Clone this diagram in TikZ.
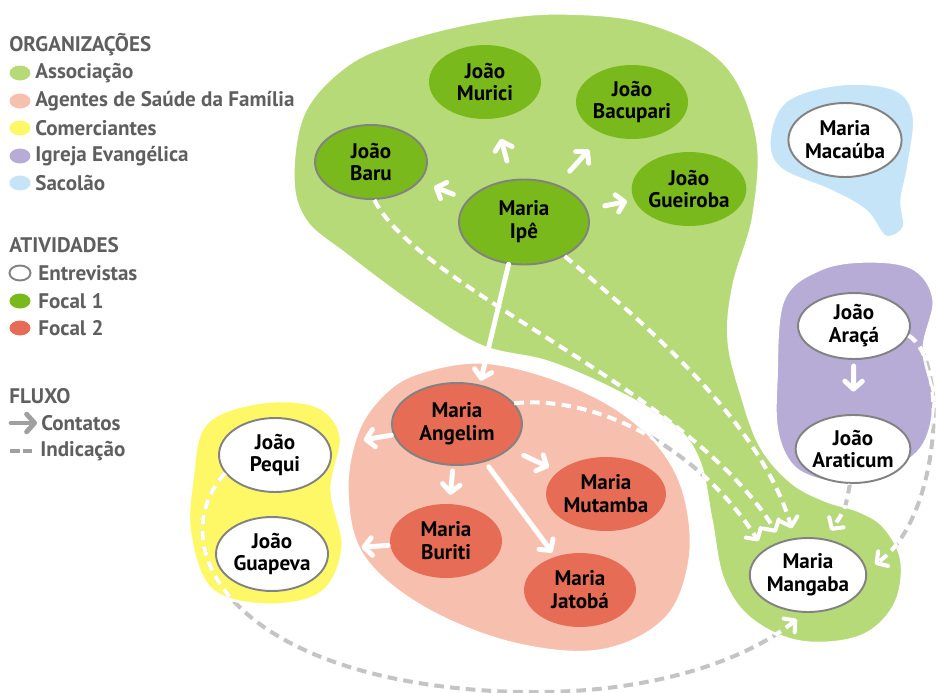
\documentclass[tikz,border=0pt]{standalone}
\usepackage{fontspec}
\setmainfont{PT Sans}
\usetikzlibrary{shapes.geometric,arrows.meta}

\definecolor{assoc}{RGB}{181,218,119}
\definecolor{agents}{RGB}{247,192,174}
\definecolor{shops}{RGB}{255,248,102}
\definecolor{church}{RGB}{182,172,213}
\definecolor{market}{RGB}{197,228,248}
\definecolor{focalone}{RGB}{122,185,27}
\definecolor{focaltwo}{RGB}{230,108,85}
\definecolor{rim}{RGB}{130,130,130}
\definecolor{hintgray}{RGB}{196,196,196}
\definecolor{legendtext}{RGB}{95,95,95}
\definecolor{legendgray}{RGB}{160,160,160}

\newcommand{\greenblob}{plot[smooth cycle,tension=0.6] coordinates {(292,178) (303,112) (345,65) (400,40) (480,20) (560,12) (650,22) (725,62) (758,135) (755,215) (735,285) (730,340) (743,395) (762,446) (792,481) (825,499) (860,510) (886,527) (903,562) (895,607) (860,638) (800,643) (750,620) (722,580) (710,520) (698,462) (672,426) (613,391) (547,363) (480,347) (413,306) (347,257) (305,222)}}
\newcommand{\pinkblob}{plot[smooth cycle,tension=0.6] coordinates {(346,490) (357,430) (385,391) (420,371) (480,361) (547,375) (613,405) (660,445) (686,495) (691,560) (666,620) (600,652) (510,644) (420,607) (361,555)}}
\newcommand{\yellowblob}{plot[smooth cycle,tension=0.6] coordinates {(191,480) (204,424) (255,402) (315,404) (342,435) (333,490) (344,548) (322,594) (265,606) (210,590) (189,535)}}
\newcommand{\purpleblob}{plot[smooth cycle,tension=0.6] coordinates {(775,380) (782,300) (820,268) (870,260) (915,268) (935,300) (925,350) (935,400) (925,445) (893,472) (857,484) (823,482) (792,467) (776,432)}}
\newcommand{\blueblob}{plot[smooth cycle,tension=0.6] coordinates {(768,140) (785,100) (840,83) (895,88) (915,115) (910,165) (903,200) (905,228) (885,238) (865,212) (830,192) (780,170)}}

\newcommand{\hintlines}[1]{%
  \draw[hint,#1] (baru.-85) .. controls (420,290) and (690,390) .. (mangaba.128);
  \draw[hint,#1] (ipe.-40) .. controls (640,320) and (760,420) .. (mangaba.110);
  \draw[hint,#1] (angelim.20) .. controls (600,395) and (700,450) .. (mangaba.150);
  \draw[hint,#1] (araticum.-95) .. controls (845,510) .. (mangaba.65);
  \draw[hint,#1] (araca.-10) .. controls (950,360) and (940,520) .. (mangaba.5);
  \draw[hint,#1] (pequi.200) .. controls (165,540) and (220,660) .. (447,687) .. controls (620,707) and (740,665) .. (mangaba.-95);
}

\begin{document}
\begin{tikzpicture}[x=0.02cm, y=-0.02cm,
    person/.style={ellipse, inner sep=0pt, align=center, minimum width=2.24cm, minimum height=1.48cm, font=\bfseries\fontsize{12}{13}\selectfont},
    big/.style={minimum width=2.6cm, minimum height=1.7cm},
    focA/.style={person, fill=focalone},
    focB/.style={person, fill=focaltwo},
    talk/.style={person, fill=white, draw=rim, line width=1.1pt},
    rimmed/.style={draw=rim, line width=1.1pt},
    blob/.style={draw=white, line width=3pt},
    contact/.style={draw=white, line width=2.8pt, line cap=round, -{Straight Barb[length=4.5pt,width=10pt,round]}},
    hint/.style={line width=2.3pt, dash pattern=on 5.5pt off 3.5pt, -{Straight Barb[length=4.5pt,width=10pt,round]}, shorten >=0.2cm},
    head/.style={anchor=west, inner sep=0pt, text=legendtext, font=\bfseries\fontsize{12}{14}\selectfont},
    item/.style={head},
    key/.style={ellipse, inner sep=0pt, minimum width=0.42cm, minimum height=0.3cm}]
  \useasboundingbox (0,0) rectangle (937,693);

  \filldraw[blob, fill=assoc] \greenblob;
  \filldraw[blob, fill=agents] \pinkblob;
  \filldraw[blob, fill=shops] \yellowblob;
  \filldraw[blob, fill=church] \purpleblob;
  \filldraw[blob, fill=market] \blueblob;

  \node[focA] (murici) at (485,82) {João\\Murici};
  \node[focA] (bacupari) at (632,102) {João\\Bacupari};
  \node[focA, rimmed] (baru) at (371,162) {João\\Baru};
  \node[focA, rimmed, big] (ipe) at (524,222) {Maria\\Ipê};
  \node[focA] (gueiroba) at (689,189) {João\\Gueiroba};
  \node[talk] (macauba) at (845,140) {Maria\\Macaúba};
  \node[talk, minimum height=1.32cm] (araca) at (854,326) {João\\Araçá};
  \node[talk, minimum height=1.36cm] (araticum) at (853,449) {João\\Araticum};
  \node[talk] (mangaba) at (808,575) {Maria\\Mangaba};
  \node[focB, rimmed, big, minimum height=1.64cm] (angelim) at (457,424) {Maria\\Angelim};
  \node[focB] (mutamba) at (606,494) {Maria\\Mutamba};
  \node[focB] (buriti) at (446,541) {Maria\\Buriti};
  \node[focB] (jatoba) at (580,590) {Maria\\Jatobá};
  \node[talk] (pequi) at (275,455) {João\\Pequi};
  \node[talk] (guapeva) at (272,554) {João\\Guapeva};

  \hintlines{hintgray}
  \begin{scope}
    \clip \greenblob \pinkblob \yellowblob \purpleblob \blueblob;
    \hintlines{white}
  \end{scope}

  \draw[contact, shorten <=0.3cm, shorten >=0.3cm] (ipe) -- (baru);
  \draw[contact, shorten <=0.38cm, shorten >=0.42cm] (ipe) -- (murici);
  \draw[contact, shorten <=0.36cm, shorten >=0.42cm] (ipe) -- (bacupari);
  \draw[contact, shorten <=0.36cm, shorten >=0.14cm] (ipe) -- (gueiroba);
  \draw[contact, shorten >=0.08cm] (ipe.250) -- (angelim.60);
  \draw[contact, shorten <=0.12cm, shorten >=0.45cm] (araca) -- (araticum);
  \draw[contact, shorten <=0.04cm, shorten >=0.68cm] (angelim) -- (pequi);
  \draw[contact, shorten <=0.1cm, shorten >=0.18cm] (angelim) -- (buriti);
  \draw[contact, shorten <=0.3cm, shorten >=0.2cm] (angelim) -- (mutamba);
  \draw[contact, shorten <=0.12cm, shorten >=0.1cm] (angelim) -- (jatoba);
  \draw[contact, shorten <=0.04cm, shorten >=0.66cm] (buriti) -- (guapeva);

  \node[head] (org) at (9,45) {ORGANIZAÇÕES};
  \node[key, fill=assoc] (kassoc) at (20,73) {};
  \node[item] (lassoc) at (35,73) {Associação};
  \node[key, fill=agents] (kagents) at (20,101) {};
  \node[item] (lagents) at (35,101) {Agentes de Saúde da Família};
  \node[key, fill=shops] (kshops) at (20,128) {};
  \node[item] (lshops) at (35,128) {Comerciantes};
  \node[key, fill=church] (kchurch) at (20,156) {};
  \node[item] (lchurch) at (35,156) {Igreja Evangélica};
  \node[key, fill=market] (kmarket) at (20,183) {};
  \node[item] (lmarket) at (35,183) {Sacolão};

  \node[head] (atv) at (9,245) {ATIVIDADES};
  \node[key, fill=white, draw=rim, line width=1.1pt] (ktalk) at (20,273) {};
  \node[item] (ltalk) at (38,273) {Entrevistas};
  \node[key, fill=focalone] (kfone) at (20,301) {};
  \node[item] (lfone) at (38,301) {Focal 1};
  \node[key, fill=focaltwo] (kftwo) at (20,328) {};
  \node[item] (lftwo) at (38,328) {Focal 2};

  \node[head] (flx) at (9,396) {FLUXO};
  \coordinate (ca) at (11,423);
  \coordinate (cb) at (37,423);
  \draw[contact, draw=legendgray] (ca) -- (cb);
  \node[item] (lcon) at (41,423) {Contatos};
  \coordinate (ia) at (10,451);
  \coordinate (ib) at (34,451);
  \draw[hint, legendgray, -, shorten >=0pt, dash pattern=on 5.5pt off 1.8pt] (ia) -- (ib);
  \node[item] (lind) at (40,451) {Indicação};
\end{tikzpicture}
\end{document}
